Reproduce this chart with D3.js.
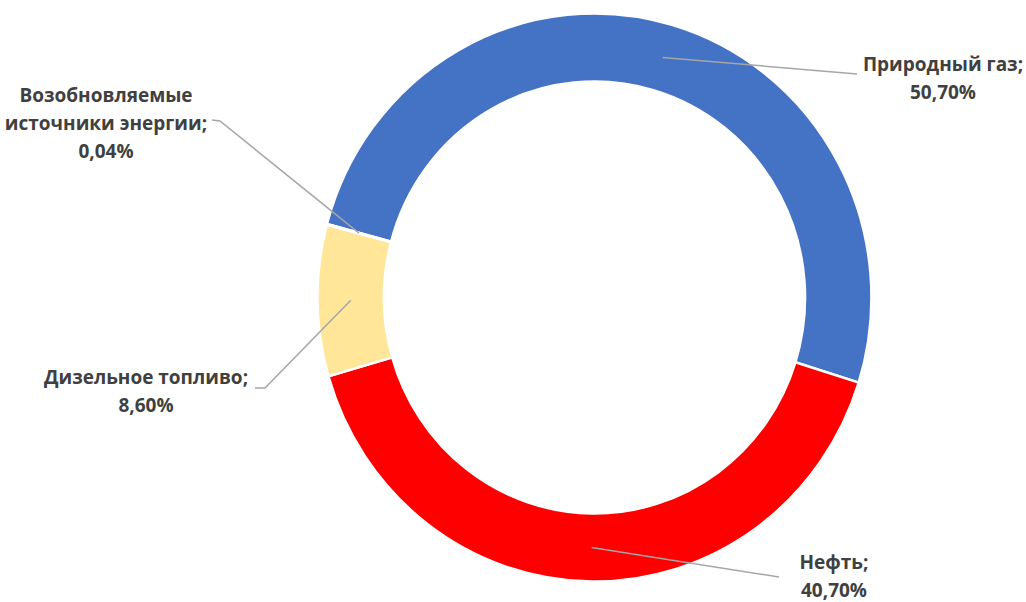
<!DOCTYPE html>
<html>
<head>
<meta charset="utf-8">
<script src="https://cdn.jsdelivr.net/npm/d3@7"></script>
<style>
  html, body { margin: 0; padding: 0; background: #ffffff; }
  svg { display: block; }
  text { font-family: "Open Sans", "Noto Sans", sans-serif; font-weight: bold; fill: #404040; }
</style>
</head>
<body>
<svg id="chart" width="1026" height="602"></svg>
<script>
const categories = ["Природный газ", "Нефть", "Дизельное топливо", "Возобновляемые источники энергии"];
const values = [50.70, 40.70, 8.60, 0.04];
const valueLabels = ["50,70%", "40,70%", "8,60%", "0,04%"];
const colors = ["#4472C4", "#FF0000", "#FFE699", "#A9D18E"];

const svg = d3.select("#chart");
const cx = 594.5, cy = 297.5, sx = 0.975;
const outerR = 284, innerR = 216, midR = 250;
const startA = -75 * Math.PI / 180;

const data = categories.map((c, i) => ({ name: c, value: values[i], label: valueLabels[i], color: colors[i] }));

const pie = d3.pie().sort(null).value(d => d.value)
  .startAngle(startA).endAngle(startA + 2 * Math.PI);
const arcs = pie(data);
const arc = d3.arc().innerRadius(innerR).outerRadius(outerR);
const midArc = d3.arc().innerRadius(midR).outerRadius(midR);

const g = svg.append("g").attr("transform", `translate(${cx},${cy}) scale(${sx},1)`);
g.selectAll("path").data(arcs).join("path")
  .attr("d", arc)
  .attr("fill", d => d.data.color)
  .attr("stroke", "#ffffff")
  .attr("stroke-width", 2.5)
  .attr("stroke-linejoin", "miter");

// label layout (positions only)
const layout = [
  { pts: [[857, 74]], x: 943, y: 64, lines: ["Природный газ;"] },
  { pts: [[779, 577]], x: 834, y: 562, lines: ["Нефть;"] },
  { pts: [[265, 388], [255, 388]], x: 146, y: 377, lines: ["Дизельное топливо;"] },
  { pts: [[220, 121], [212, 120]], x: 106, y: 95, lines: ["Возобновляемые", "источники энергии;"] }
];

arcs.forEach((a, i) => {
  const L = layout[i];
  const c = midArc.centroid(a);
  const start = [cx + c[0] * sx, cy + c[1]];
  const pts = [start].concat(L.pts);
  svg.append("path")
    .attr("d", d3.line()(pts))
    .attr("fill", "none")
    .attr("stroke", "#A6A6A6")
    .attr("stroke-width", 1.5);

  const t = svg.append("text")
    .attr("text-anchor", "middle")
    .attr("font-size", 19)
    .attr("dominant-baseline", "central");
  const allLines = L.lines.concat([a.data.label]);
  allLines.forEach((ln, k) => {
    t.append("tspan").attr("x", L.x).attr("y", L.y + k * 28).text(ln);
  });
});
</script>
</body>
</html>
